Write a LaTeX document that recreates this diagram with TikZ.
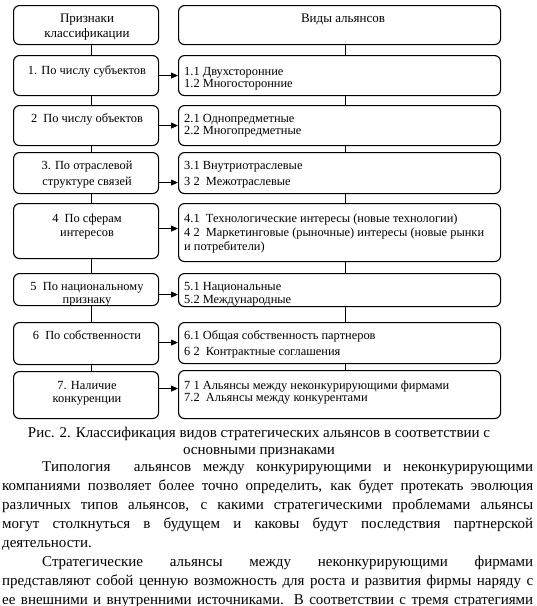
\documentclass[tikz,border=0pt]{standalone}
\usepackage{fontspec}
\setmainfont{Liberation Serif}
\usetikzlibrary{arrows.meta}
\newcommand\mylt[2]{\parbox[t]{150pt}{\centering\baselineskip=#1pt\relax #2\par}}
\newcommand\myrt[2]{\parbox[t]{315pt}{\raggedright\baselineskip=#1pt\relax #2\par}}
\newcommand\jl[1]{\makebox[531pt][s]{#1}\par}
\tikzset{
 box/.style={draw, rounded corners=6pt, line width=1.1pt, inner sep=0pt, anchor=north west},
 lbox/.style={box, minimum width=145pt},
 rbox/.style={box, minimum width=322pt},
 txt/.style={inner sep=0pt, font=\fontsize{12.4}{13}\selectfont},
 arr/.style={line width=0.9pt, -{Triangle[length=7pt,width=6pt]}},
 link/.style={line width=0.9pt},
 para/.style={inner sep=0pt, font=\fontsize{15}{19}\selectfont},
}
\begin{document}
\begin{tikzpicture}[x=1pt,y=-1pt]
\useasboundingbox (0,0) rectangle (537,606);
% boxes
\node[lbox, minimum height=39pt] (L0) at (13,5) {};
\node[rbox, minimum height=39pt] (R0) at (178,5) {};
\node[lbox, minimum height=40pt] (L1) at (13,55) {};
\node[rbox, minimum height=40pt] (R1) at (178,55) {};
\node[lbox, minimum height=40pt] (L2) at (13,105) {};
\node[rbox, minimum height=40pt] (R2) at (178,105) {};
\node[lbox, minimum height=41pt] (L3) at (13,152) {};
\node[rbox, minimum height=41pt] (R3) at (178,152) {};
\node[lbox, minimum height=55pt] (L4) at (13,203) {};
\node[rbox, minimum height=58pt] (R4) at (178,203) {};
\node[lbox, minimum height=32pt] (L5) at (13,273) {};
\node[rbox, minimum height=33pt] (R5) at (178,273) {};
\node[lbox, minimum height=42pt] (L6) at (13,322) {};
\node[rbox, minimum height=41pt] (R6) at (178,322) {};
\node[lbox, minimum height=47pt] (L7) at (13,371) {};
\node[rbox, minimum height=48pt] (R7) at (178,370) {};
% texts
\node[txt, anchor=base, font=\fontsize{13}{13}\selectfont] (tL0) at (87,22) {\mylt{15}{Признаки\\классификации}};
\node[txt, anchor=base, font=\fontsize{13}{13}\selectfont] (tR0) at (343,22) {Виды альянсов};
\node[txt, anchor=base] (tL1) at (87,74) {\mylt{13}{1. По числу субъектов}};
\node[txt, anchor=base west] (tR1) at (184,75) {\myrt{12.5}{1.1 Двухсторонние\\1.2 Многосторонние}};
\node[txt, anchor=base] (tL2) at (87,122) {\mylt{13}{2\ \ По числу объектов}};
\node[txt, anchor=base west] (tR2) at (184,122) {\myrt{12.5}{2.1 Однопредметные\\2.2 Многопредметные}};
\node[txt, anchor=base] (tL3) at (87,169) {\mylt{16}{3. По отраслевой\\структуре связей}};
\node[txt, anchor=base west] (tR3) at (184,169) {\myrt{16}{3.1 Внутриотраслевые\\3 2\ \ Межотраслевые}};
\node[txt, anchor=base] (tL4) at (87,222) {\mylt{14}{4\ \ По сферам\\интересов}};
\node[txt, anchor=base west] (tR4) at (184,222) {\myrt{14}{4.1\ \ Технологические интересы (новые технологии)\\4 2\ \ Маркетинговые (рыночные) интересы (новые рынки\\и потребители)}};
\node[txt, anchor=base] (tL5) at (87,290) {\mylt{13}{5\ \ По национальному\\признаку}};
\node[txt, anchor=base west] (tR5) at (184,290) {\myrt{13}{5.1 Национальные\\5.2 Международные}};
\node[txt, anchor=base] (tL6) at (87,339) {\mylt{13}{6\ \ По собственности}};
\node[txt, anchor=base west] (tR6) at (184,339) {\myrt{16}{6.1 Общая собственность партнеров\\6 2\ \ Контрактные соглашения}};
\node[txt, anchor=base] (tL7) at (87,389) {\mylt{13}{7. Наличие\\конкуренции}};
\node[txt, anchor=base west] (tR7) at (184,389) {\myrt{12.5}{7 1 Альянсы между неконкурирующими фирмами\\7.2\ \ Альянсы между конкурентами}};
% vertical links
\foreach \a/\b in {L0/L1,L1/L2,L2/L3,L3/L4,L4/L5,L5/L6,L6/L7}
  \draw[link] ([xshift=5pt]\a.south) -- ([xshift=5pt]\a.south |- \b.north);
\foreach \a/\b in {R0/R1,R1/R2,R2/R3,R3/R4,R4/R5,R5/R6,R6/R7}
  \draw[link] ([xshift=5.5pt]\a.south) -- ([xshift=5.5pt]\a.south |- \b.north);
% arrows
\foreach \a/\b/\s in {L1/R1/0,L2/R2/0,L3/R3/-9.5,L4/R4/2.5,L5/R5/-5,L6/R6/1,L7/R7/6.5}
  \draw[arr] ([yshift=\s pt]\a.east) -- ([yshift=\s pt]\a.east -| \b.west);
% caption
\node[para, anchor=base] (cap) at (259,437) {\parbox[t]{520pt}{\centering\baselineskip=17pt Рис. 2. Классификация видов стратегических альянсов в соответствии с\\основными признаками\par}};
% body
\node[para, anchor=base west] (body) at (2,471) {\parbox[t]{531pt}{\baselineskip=19pt\relax
\jl{\hspace*{40pt}Типология\ \ альянсов между конкурирующими и неконкурирующими}
\jl{компаниями позволяет более точно определить, как будет протекать эволюция}
\jl{различных типов альянсов, с какими стратегическими проблемами альянсы}
\jl{могут столкнуться в будущем и каковы будут последствия партнерской}
деятельности.\par
\jl{\hspace*{40pt}Стратегические альянсы между неконкурирующими фирмами}
\jl{представляют собой ценную возможность для роста и развития фирмы наряду с}
\jl{ее внешними и внутренними источниками. В соответствии с тремя стратегиями}
}};
\end{tikzpicture}
\end{document}
